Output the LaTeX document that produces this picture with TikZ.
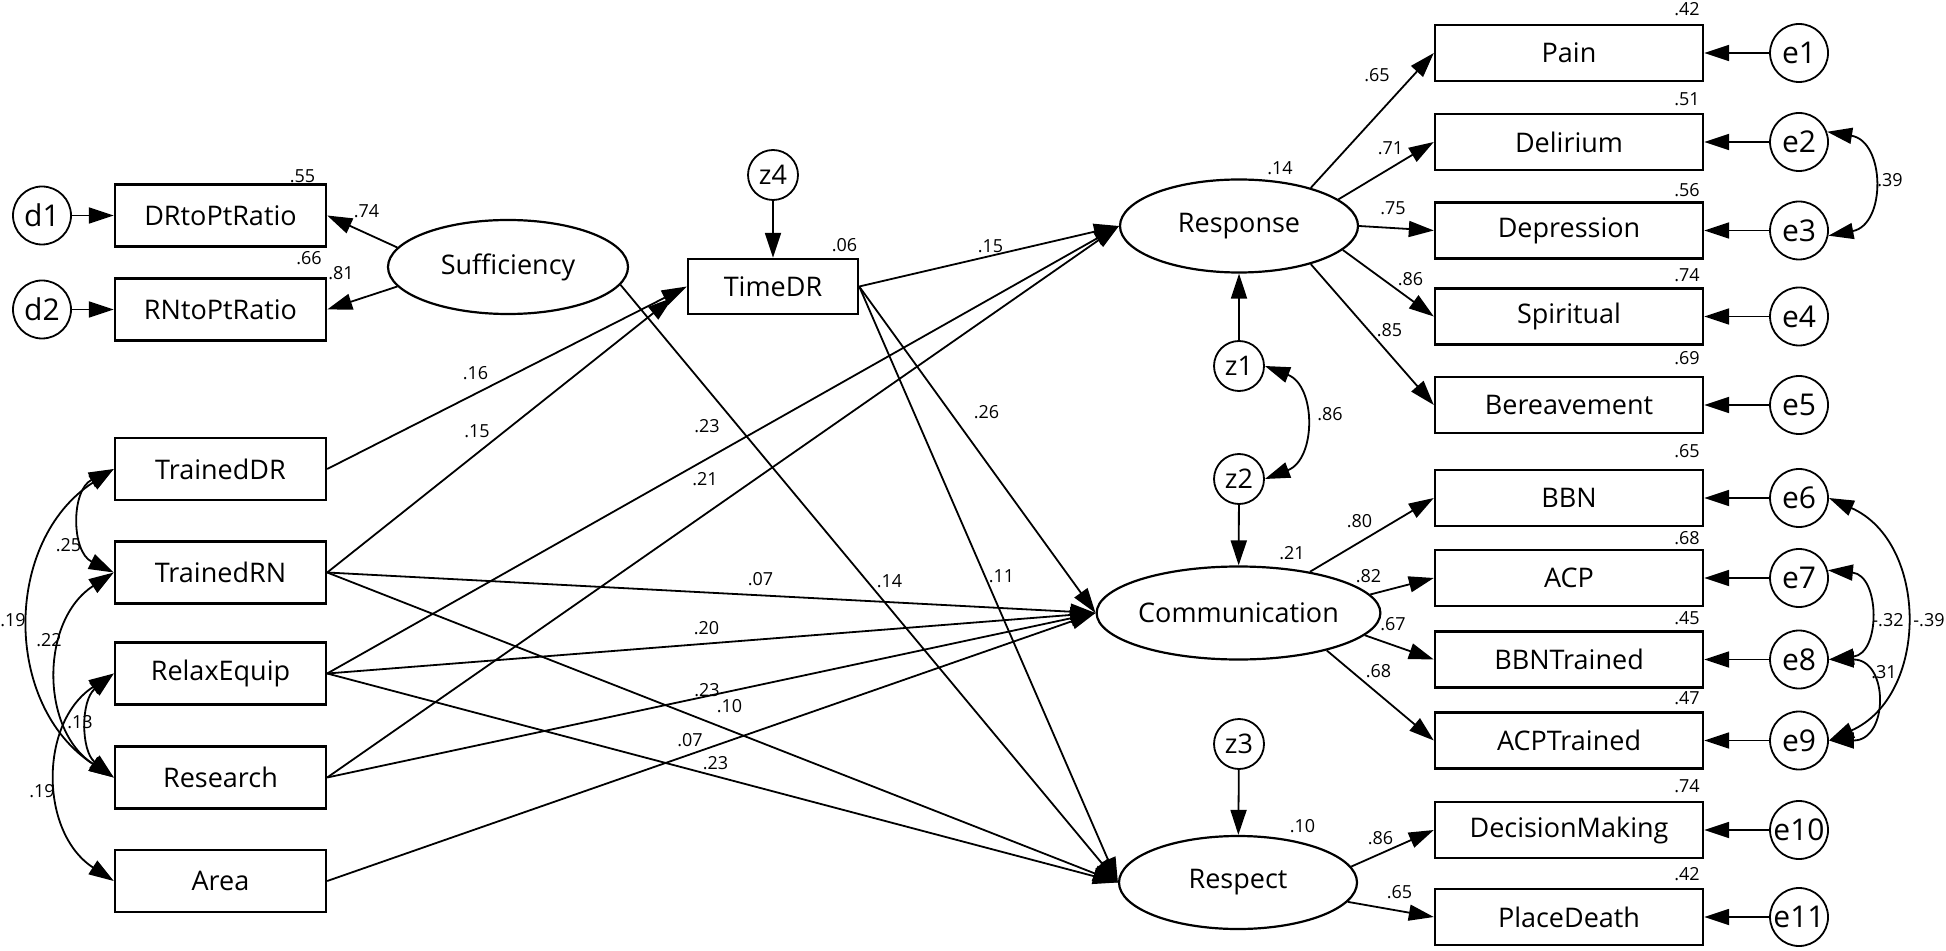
\documentclass[tikz,border=0pt]{standalone}
\usepackage{fontspec}
\setmainfont{Open Sans}
\usetikzlibrary{arrows.meta,shapes.geometric}

\begin{document}
\begin{tikzpicture}[x=0.5pt,y=-0.5pt,
  >={Triangle[length=12.5pt,width=8pt]},
  obs/.style={draw,line width=1.2pt,inner sep=0pt,minimum width=105.5pt,minimum height=31pt,font=\fontsize{13.5}{15}\selectfont},
  ind/.style={obs,minimum width=134pt,minimum height=28pt},
  lat/.style={ellipse,draw,line width=1.1pt,inner sep=0pt,minimum width=119pt,minimum height=46.5pt,font=\fontsize{13.5}{15}\selectfont},
  res/.style={circle,draw,line width=0.9pt,inner sep=0pt,minimum size=29pt,font=\fontsize{15}{17}\selectfont},
  dis/.style={res,minimum size=25pt,font=\fontsize{13.5}{15}\selectfont},
  coef/.style={inner sep=0pt,font=\fontsize{9}{10}\selectfont},
  reg/.style={->,line width=0.9pt},
  cov/.style={<->,line width=0.9pt}]
\useasboundingbox (0,0) rectangle (1946,951);

% exogenous side
\node[obs] (DRtoPtRatio) at (220.5,215.5) {DRtoPtRatio};
\node[obs] (RNtoPtRatio) at (220.5,309.5) {RNtoPtRatio};
\node[obs] (TrainedDR) at (220.5,469) {TrainedDR};
\node[obs] (TrainedRN) at (220.5,572.5) {TrainedRN};
\node[obs] (RelaxEquip) at (220.5,673.5) {RelaxEquip};
\node[obs] (Research) at (220.5,777.5) {Research};
\node[obs] (Area) at (220.5,881) {Area};
\node[res] (d1) at (42,215.5) {d1};
\node[res] (d2) at (42,309.5) {d2};
\node[lat,minimum width=120pt,minimum height=47pt] (Sufficiency) at (508,267) {Sufficiency};
\node[obs,minimum width=85pt,minimum height=27.5pt] (TimeDR) at (773,286.5) {TimeDR};
\node[dis] (z4) at (773,175) {z4};

% outcomes
\node[lat] (Response) at (1239,226) {Response};
\node[lat] (Communication) at (1238.5,613) {Communication};
\node[lat] (Respect) at (1238,882.5) {Respect};
\node[dis] (z1) at (1239,366) {z1};
\node[dis] (z2) at (1239,479) {z2};
\node[dis] (z3) at (1239,744) {z3};

% indicators
\node[ind] (Pain) at (1569,53) {Pain};
\node[ind] (Delirium) at (1569,142) {Delirium};
\node[ind] (Depression) at (1569,230.5) {Depression};
\node[ind] (Spiritual) at (1569,316.5) {Spiritual};
\node[ind] (Bereavement) at (1569,405) {Bereavement};
\node[ind] (BBN) at (1569,498) {BBN};
\node[ind] (ACP) at (1569,578) {ACP};
\node[ind] (BBNTrained) at (1569,659.5) {BBNTrained};
\node[ind] (ACPTrained) at (1569,740.5) {ACPTrained};
\node[ind] (DecisionMaking) at (1569,830) {DecisionMaking};
\node[ind] (PlaceDeath) at (1569,917) {PlaceDeath};
\node[res] (e1) at (1799,53) {e1};
\node[res] (e2) at (1799,142) {e2};
\node[res] (e3) at (1799,230.5) {e3};
\node[res] (e4) at (1799,316.5) {e4};
\node[res] (e5) at (1799,405) {e5};
\node[res] (e6) at (1799,498) {e6};
\node[res] (e7) at (1799,578) {e7};
\node[res] (e8) at (1799,659.5) {e8};
\node[res] (e9) at (1799,740.5) {e9};
\node[res] (e10) at (1799,830) {e10};
\node[res] (e11) at (1799,917) {e11};

% Sufficiency measurement
\draw[reg] (Sufficiency.170) -- (DRtoPtRatio.east);
\draw[reg] (Sufficiency.190) -- (RNtoPtRatio.east);
\draw[reg] (d1) -- (DRtoPtRatio);
\draw[reg] (d2) -- (RNtoPtRatio);

% structural paths
\draw[reg] (z4) -- (TimeDR);
\draw[reg] (TrainedDR.east) -- (TimeDR.west);
\draw[reg,shorten >=9pt] (TrainedRN.east) -- (TimeDR.west);
\draw[reg] (TimeDR.east) -- (Response.west);
\draw[reg] (RelaxEquip.east) -- (Response.west);
\draw[reg] (Research.east) -- (Response.west);
\draw[reg] (TimeDR.east) -- (Communication.west);
\draw[reg] (TrainedRN.east) -- (Communication.west);
\draw[reg] (RelaxEquip.east) -- (Communication.west);
\draw[reg] (Research.east) -- (Communication.west);
\draw[reg] (Area.east) -- (Communication.west);
\draw[reg] (Sufficiency.-9) -- (Respect.west);
\draw[reg] (TimeDR.east) -- (Respect.west);
\draw[reg] (TrainedRN.east) -- (Respect.west);
\draw[reg] (RelaxEquip.east) -- (Respect.west);
\draw[reg] (z1) -- (Response);
\draw[reg] (z2) -- (Communication);
\draw[reg] (z3) -- (Respect);

% loadings
\draw[reg] (Response.28) -- (Pain.west);
\draw[reg] (Response.15) -- (Delirium.west);
\draw[reg] (Response.0) -- (Depression.west);
\draw[reg] (Response.-13) -- (Spiritual.west);
\draw[reg] (Response.-28) -- (Bereavement.west);
\draw[reg] (Communication.30) -- (BBN.west);
\draw[reg] (Communication.8) -- (ACP.west);
\draw[reg] (Communication.-10) -- (BBNTrained.west);
\draw[reg] (Communication.-23) -- (ACPTrained.west);
\draw[reg] (Respect.8) -- (DecisionMaking.west);
\draw[reg] (Respect.-10) -- (PlaceDeath.west);

% errors
\draw[reg] (e1) -- (Pain);
\draw[reg] (e2) -- (Delirium);
\draw[reg] (e3) -- (Depression);
\draw[reg] (e4) -- (Spiritual);
\draw[reg] (e5) -- (Bereavement);
\draw[reg] (e6) -- (BBN);
\draw[reg] (e7) -- (ACP);
\draw[reg] (e8) -- (BBNTrained);
\draw[reg] (e9) -- (ACPTrained);
\draw[reg] (e10) -- (DecisionMaking);
\draw[reg] (e11) -- (PlaceDeath);

% covariances
\draw[cov] (TrainedDR.west) to[bend right=64,looseness=1.18] (TrainedRN.west);
\draw[cov] (TrainedDR.west) to[bend right=57,looseness=1.1] (Research.west);
\draw[cov] (TrainedRN.west) to[bend right=57,looseness=1.1] (Research.west);
\draw[cov] (RelaxEquip.west) to[bend right=51,looseness=1.05] (Research.west);
\draw[cov] (RelaxEquip.west) to[bend right=57,looseness=1.1] (Area.west);
\draw[cov] (z1.east) to[bend left=69,looseness=1.25] (z2.east);
\draw[cov] (e2.20) to[bend left=80,looseness=1.45] (e3.-10);
\draw[cov] (e6.east) to[bend left=66,looseness=1.16] (e9.east);
\draw[cov] (e7.15) to[bend left=84,looseness=1.5] (e8.east);
\draw[cov] (e8.east) to[bend left=90,looseness=1.9] (e9.east);

% squared multiple correlations
\node[coef] (rDR) at (302.5,176) {.55};
\node[coef] (rRN) at (309,258.5) {.66};
\node[coef] (rTime) at (844.5,245) {.06};
\node[coef] (rResp) at (1280,168.5) {.14};
\node[coef] (rComm) at (1292,553) {.21};
\node[coef] (rRsp) at (1302.5,826) {.10};
\node[coef,anchor=east] (rPain) at (1700,9.5) {.42};
\node[coef,anchor=east] (rDel) at (1700,99) {.51};
\node[coef,anchor=east] (rDep) at (1700,190) {.56};
\node[coef,anchor=east] (rSpi) at (1700,275) {.74};
\node[coef,anchor=east] (rBer) at (1700,358.5) {.69};
\node[coef,anchor=east] (rBBN) at (1700,451) {.65};
\node[coef,anchor=east] (rACP) at (1700,538) {.68};
\node[coef,anchor=east] (rBBNT) at (1700,618.5) {.45};
\node[coef,anchor=east] (rACPT) at (1700,698.5) {.47};
\node[coef,anchor=east] (rDM) at (1700,786.5) {.74};
\node[coef,anchor=east] (rPD) at (1700,874) {.42};

% path coefficients
\node[coef] (bDR) at (366.5,211) {.74};
\node[coef] (bRN) at (341,273.5) {.81};
\node[coef] (bTDRt) at (475.5,373) {.16};
\node[coef] (bTRNt) at (477,431.5) {.15};
\node[coef] (bREr) at (707,426.5) {.23};
\node[coef] (bRSr) at (705,479) {.21};
\node[coef] (bTRNc) at (760.5,579) {.07};
\node[coef] (bREc) at (706.5,628) {.20};
\node[coef] (bRSc) at (707,690) {.23};
\node[coef] (bTRNs) at (729.5,706.5) {.10};
\node[coef] (bARc) at (690,740) {.07};
\node[coef] (bREs) at (715.5,763) {.23};
\node[coef] (bTr) at (990.5,246) {.15};
\node[coef] (bTc) at (986.5,412) {.26};
\node[coef] (bSs) at (889.5,581) {.14};
\node[coef] (bTs) at (1001.5,576.5) {.11};
\node[coef] (lPain) at (1377,75) {.65};
\node[coef] (lDel) at (1390.5,148.5) {.71};
\node[coef] (lDep) at (1393,208.5) {.75};
\node[coef] (lSpi) at (1410.5,279) {.86};
\node[coef] (lBer) at (1389.5,330) {.85};
\node[coef] (lBBN) at (1359.5,521) {.80};
\node[coef] (lACP) at (1368.5,576.5) {.82};
\node[coef] (lBBNT) at (1393,624.5) {.67};
\node[coef] (lACPT) at (1378.5,671) {.68};
\node[coef] (lDM) at (1380.5,838) {.86};
\node[coef] (lPD) at (1399.5,892) {.65};

% correlation values
\node[coef] (cDRRN) at (68.5,545.5) {.25};
\node[coef] (cDRRS) at (13,620) {.19};
\node[coef] (cRNRS) at (49,640) {.22};
\node[coef] (cRERS) at (80,722) {.13};
\node[coef] (cREAR) at (42,791.5) {.19};
\node[coef] (cz) at (1330,414) {.86};
\node[coef] (ce23) at (1890,180) {.39};
\node[coef] (ce78) at (1888,620) {-.32};
\node[coef] (ce69) at (1929,620) {-.39};
\node[coef] (ce89) at (1884,672) {.31};
\end{tikzpicture}
\end{document}
